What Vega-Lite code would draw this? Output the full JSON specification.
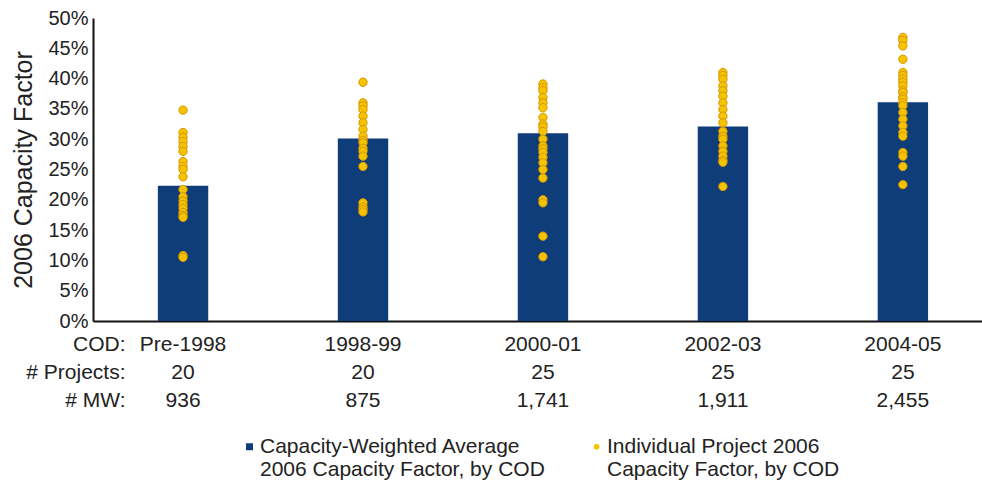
{
  "$schema": "https://vega.github.io/schema/vega-lite/v6.json",
  "autosize": "none",
  "width": 889,
  "height": 303,
  "padding": {"left": 93, "top": 18, "right": 0, "bottom": 164},
  "background": "#ffffff",
  "config": {
    "view": {"stroke": null},
    "font": "Liberation Sans",
    "axis": {"labelColor": "#222222", "titleColor": "#222222", "domainColor": "#111111", "domainWidth": 2, "ticks": false, "grid": false, "titleFontWeight": "normal", "labelOverlap": false},
    "legend": {"labelColor": "#222222"}
  },
  "datasets": {
    "bars": [
      {"cod": "Pre-1998", "axis": "Pre-1998|20|936", "cf": 0.223},
      {"cod": "1998-99", "axis": "1998-99|20|875", "cf": 0.301},
      {"cod": "2000-01", "axis": "2000-01|25|1,741", "cf": 0.310},
      {"cod": "2002-03", "axis": "2002-03|25|1,911", "cf": 0.321},
      {"cod": "2004-05", "axis": "2004-05|25|2,455", "cf": 0.361}
    ],
    "dots": [
      {"cod": "Pre-1998", "cf": 0.348}, {"cod": "Pre-1998", "cf": 0.311}, {"cod": "Pre-1998", "cf": 0.303},
      {"cod": "Pre-1998", "cf": 0.296}, {"cod": "Pre-1998", "cf": 0.288}, {"cod": "Pre-1998", "cf": 0.280},
      {"cod": "Pre-1998", "cf": 0.263}, {"cod": "Pre-1998", "cf": 0.255}, {"cod": "Pre-1998", "cf": 0.250},
      {"cod": "Pre-1998", "cf": 0.238}, {"cod": "Pre-1998", "cf": 0.217}, {"cod": "Pre-1998", "cf": 0.205},
      {"cod": "Pre-1998", "cf": 0.198}, {"cod": "Pre-1998", "cf": 0.192}, {"cod": "Pre-1998", "cf": 0.186},
      {"cod": "Pre-1998", "cf": 0.179}, {"cod": "Pre-1998", "cf": 0.174}, {"cod": "Pre-1998", "cf": 0.171},
      {"cod": "Pre-1998", "cf": 0.108}, {"cod": "Pre-1998", "cf": 0.105},
      {"cod": "1998-99", "cf": 0.394}, {"cod": "1998-99", "cf": 0.360}, {"cod": "1998-99", "cf": 0.355},
      {"cod": "1998-99", "cf": 0.349}, {"cod": "1998-99", "cf": 0.338}, {"cod": "1998-99", "cf": 0.327},
      {"cod": "1998-99", "cf": 0.316}, {"cod": "1998-99", "cf": 0.305}, {"cod": "1998-99", "cf": 0.298},
      {"cod": "1998-99", "cf": 0.294}, {"cod": "1998-99", "cf": 0.285}, {"cod": "1998-99", "cf": 0.280},
      {"cod": "1998-99", "cf": 0.272}, {"cod": "1998-99", "cf": 0.255}, {"cod": "1998-99", "cf": 0.195},
      {"cod": "1998-99", "cf": 0.188}, {"cod": "1998-99", "cf": 0.184}, {"cod": "1998-99", "cf": 0.180},
      {"cod": "2000-01", "cf": 0.391}, {"cod": "2000-01", "cf": 0.385}, {"cod": "2000-01", "cf": 0.380},
      {"cod": "2000-01", "cf": 0.369}, {"cod": "2000-01", "cf": 0.360}, {"cod": "2000-01", "cf": 0.352},
      {"cod": "2000-01", "cf": 0.336}, {"cod": "2000-01", "cf": 0.325}, {"cod": "2000-01", "cf": 0.320},
      {"cod": "2000-01", "cf": 0.313}, {"cod": "2000-01", "cf": 0.300}, {"cod": "2000-01", "cf": 0.289},
      {"cod": "2000-01", "cf": 0.284}, {"cod": "2000-01", "cf": 0.278}, {"cod": "2000-01", "cf": 0.270},
      {"cod": "2000-01", "cf": 0.261}, {"cod": "2000-01", "cf": 0.250}, {"cod": "2000-01", "cf": 0.236},
      {"cod": "2000-01", "cf": 0.200}, {"cod": "2000-01", "cf": 0.195}, {"cod": "2000-01", "cf": 0.140},
      {"cod": "2000-01", "cf": 0.106},
      {"cod": "2002-03", "cf": 0.410}, {"cod": "2002-03", "cf": 0.405}, {"cod": "2002-03", "cf": 0.399},
      {"cod": "2002-03", "cf": 0.388}, {"cod": "2002-03", "cf": 0.380}, {"cod": "2002-03", "cf": 0.371},
      {"cod": "2002-03", "cf": 0.360}, {"cod": "2002-03", "cf": 0.349}, {"cod": "2002-03", "cf": 0.338},
      {"cod": "2002-03", "cf": 0.327}, {"cod": "2002-03", "cf": 0.313}, {"cod": "2002-03", "cf": 0.305},
      {"cod": "2002-03", "cf": 0.300}, {"cod": "2002-03", "cf": 0.289}, {"cod": "2002-03", "cf": 0.280},
      {"cod": "2002-03", "cf": 0.272}, {"cod": "2002-03", "cf": 0.265}, {"cod": "2002-03", "cf": 0.262},
      {"cod": "2002-03", "cf": 0.222},
      {"cod": "2004-05", "cf": 0.468}, {"cod": "2004-05", "cf": 0.463}, {"cod": "2004-05", "cf": 0.454},
      {"cod": "2004-05", "cf": 0.432}, {"cod": "2004-05", "cf": 0.410}, {"cod": "2004-05", "cf": 0.405},
      {"cod": "2004-05", "cf": 0.399}, {"cod": "2004-05", "cf": 0.394}, {"cod": "2004-05", "cf": 0.388},
      {"cod": "2004-05", "cf": 0.380}, {"cod": "2004-05", "cf": 0.377}, {"cod": "2004-05", "cf": 0.370},
      {"cod": "2004-05", "cf": 0.366}, {"cod": "2004-05", "cf": 0.360}, {"cod": "2004-05", "cf": 0.355},
      {"cod": "2004-05", "cf": 0.344}, {"cod": "2004-05", "cf": 0.333}, {"cod": "2004-05", "cf": 0.322},
      {"cod": "2004-05", "cf": 0.311}, {"cod": "2004-05", "cf": 0.305}, {"cod": "2004-05", "cf": 0.278},
      {"cod": "2004-05", "cf": 0.272}, {"cod": "2004-05", "cf": 0.255}, {"cod": "2004-05", "cf": 0.225}
    ]
  },
  "encoding": {
    "x": {
      "field": "axis",
      "type": "nominal",
      "sort": null,
      "scale": {"paddingInner": 0.72, "paddingOuter": 0.33, "align": 0.546},
      "axis": {
        "labelAngle": 0,
        "labelExpr": "split(datum.label, '|')",
        "labelFontSize": 21,
        "labelLineHeight": 28,
        "labelPadding": 12,
        "title": ["COD:", "# Projects:", "# MW:"],
        "titleFontSize": 21,
        "titleLineHeight": 28,
        "titleAlign": "right",
        "titleBaseline": "top",
        "titleX": 32,
        "titleY": 12,
        "titleAngle": 0
      }
    },
    "y": {
      "field": "cf",
      "type": "quantitative",
      "scale": {"domain": [0, 0.5]},
      "axis": {
        "values": [0, 0.05, 0.1, 0.15, 0.2, 0.25, 0.3, 0.35, 0.4, 0.45, 0.5],
        "format": ".0%",
        "labelOverlap": false,
        "labelFontSize": 20,
        "labelPadding": 5,
        "title": "2006 Capacity Factor",
        "titleFontSize": 25,
        "titlePadding": 11
      }
    }
  },
  "layer": [
    {
      "data": {"name": "bars"},
      "mark": {"type": "bar"},
      "encoding": {
        "color": {
          "datum": "Capacity-Weighted Average|2006 Capacity Factor, by COD",
          "scale": {
            "domain": ["Capacity-Weighted Average|2006 Capacity Factor, by COD", "Individual Project 2006|Capacity Factor, by COD"],
            "range": ["#0e3d7a", "#f5c400"]
          },
          "legend": {
            "title": null,
            "orient": "none",
            "legendX": 146,
            "legendY": 418,
            "direction": "horizontal",
            "labelExpr": "split(datum.label, '|')",
            "labelFontSize": 21,
            "labelLineHeight": 23,
            "labelLimit": 400,
            "labelOffset": 0,
            "symbolSize": 49,
            "columnPadding": 41,
            "encode": {
              "symbols": {
                "update": {
                  "shape": {"signal": "datum.value == 'Individual Project 2006|Capacity Factor, by COD' ? 'circle' : 'square'"},
                  "size": {"signal": "datum.value == 'Individual Project 2006|Capacity Factor, by COD' ? 32 : 49"}
                }
              }
            }
          }
        }
      }
    },
    {
      "data": {"name": "dots"},
      "transform": [
        {"lookup": "cod", "from": {"data": {"name": "bars"}, "key": "cod", "fields": ["axis"]}}
      ],
      "mark": {"type": "point", "filled": true, "size": 70, "stroke": "#d99500", "strokeWidth": 1, "opacity": 1},
      "encoding": {
        "color": {"datum": "Individual Project 2006|Capacity Factor, by COD"}
      }
    }
  ]
}
